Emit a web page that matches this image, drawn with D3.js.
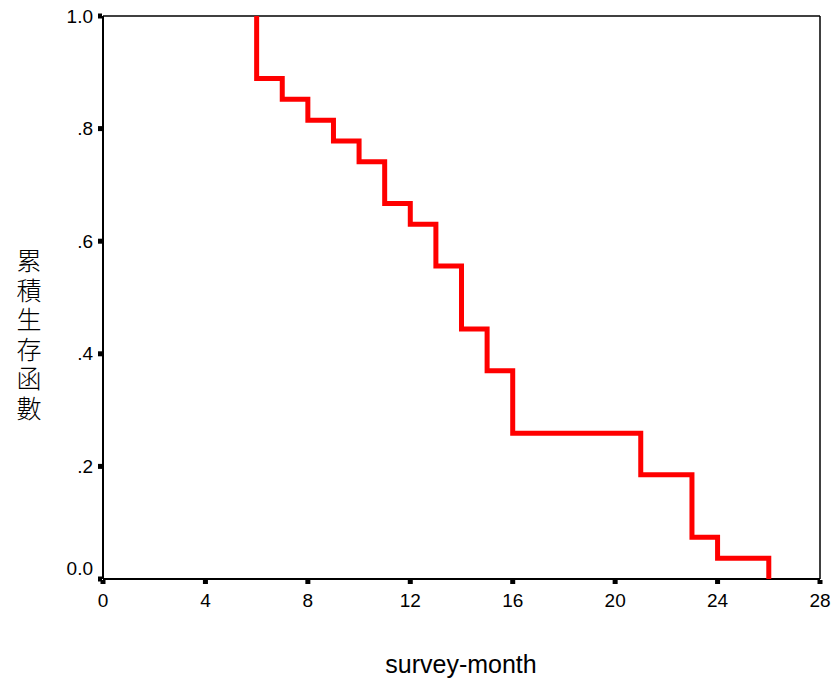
<!DOCTYPE html>
<html>
<head>
<meta charset="utf-8">
<script src="https://cdn.jsdelivr.net/npm/d3@7"></script>
<style>
  body{margin:0;background:#fff}
  text{font-family:"Liberation Sans",Arial,sans-serif}
</style>
</head>
<body>
<script>
// survival steps (n = 27)
var times = [0, 6, 7, 8, 9, 10, 11, 12, 13, 14, 15, 16, 21, 23, 24, 26]
var survival = [1, 0.889, 0.852, 0.815, 0.778, 0.741, 0.667, 0.630, 0.556, 0.444, 0.370, 0.259, 0.185, 0.074, 0.037, 0]
var startTime = 6
var xTicks = [0, 4, 8, 12, 16, 20, 24, 28]
var yTicks = [0, 0.2, 0.4, 0.6, 0.8, 1.0]
var yTickLabels = ["0.0", ".2", ".4", ".6", ".8", "1.0"]

var W = 836, H = 686
var m = {l: 103, r: 16, t: 16, b: 107}
var svg = d3.select("body").append("svg").attr("width", W).attr("height", H)

var x = d3.scaleLinear().domain([0, 28]).range([m.l, W - m.r])
var y = d3.scaleLinear().domain([0, 1]).range([H - m.b, m.t])

// frame
svg.append("line").attr("x1", x(0)).attr("x2", x(28)).attr("y1", y(1)).attr("y2", y(1))
    .attr("stroke", "#000").attr("stroke-width", 1.5)
svg.append("line").attr("x1", x(28)).attr("x2", x(28)).attr("y1", y(1)).attr("y2", y(0))
    .attr("stroke", "#000").attr("stroke-width", 1.5)
svg.append("line").attr("x1", x(0)).attr("x2", x(0)).attr("y1", y(1)).attr("y2", y(0))
    .attr("stroke", "#000").attr("stroke-width", 2)
svg.append("line").attr("x1", x(0)).attr("x2", x(28)).attr("y1", y(0)).attr("y2", y(0))
    .attr("stroke", "#000").attr("stroke-width", 2)

// tick marks (small squares)
svg.selectAll(".xt").data(xTicks).enter().append("rect")
    .attr("x", function(d){return x(d) - 2.5}).attr("y", y(0) + 1)
    .attr("width", 5).attr("height", 4).attr("fill", "#000")
svg.selectAll(".yt").data(yTicks).enter().append("rect")
    .attr("x", x(0) - 5).attr("y", function(d){return y(d) - 2.5})
    .attr("width", 4).attr("height", 5).attr("fill", "#000")

// tick labels
svg.selectAll(".xl").data(xTicks).enter().append("text")
    .attr("x", function(d){return x(d)}).attr("y", y(0) + 28)
    .attr("text-anchor", "middle").attr("font-size", 19).text(function(d){return d})
svg.selectAll(".yl").data(yTicks).enter().append("text")
    .attr("x", x(0) - 10)
    .attr("y", function(d){return (d === 0 ? y(d) - 11 : y(d)) + 6.5})
    .attr("text-anchor", "end").attr("font-size", 19)
    .text(function(d, i){return yTickLabels[i]})

// survival step line
var pts = [[startTime, 1]]
for (var i = 1; i < times.length; i++) {
    pts.push([times[i], survival[i]])
}
var line = d3.line().x(function(d){return x(d[0])}).y(function(d){return y(d[1])})
    .curve(d3.curveStepAfter)
svg.append("path").attr("d", line(pts)).attr("fill", "none")
    .attr("stroke", "#ff0000").attr("stroke-width", 5)

// axis titles
svg.append("text").attr("x", 461).attr("y", 673)
    .attr("text-anchor", "middle").attr("font-size", 25).text("survey-month")
svg.append("text").attr("x", 29).attr("y", 248)
    .attr("font-size", 25)
    .style("writing-mode", "vertical-rl")
    .style("text-orientation", "upright")
    .style("letter-spacing", "4.5px")
    .style("font-family", "'Noto Sans CJK TC','Noto Sans CJK SC',sans-serif")
    .attr("font-weight", 300)
    .text("累積生存函數")
</script>
</body>
</html>
